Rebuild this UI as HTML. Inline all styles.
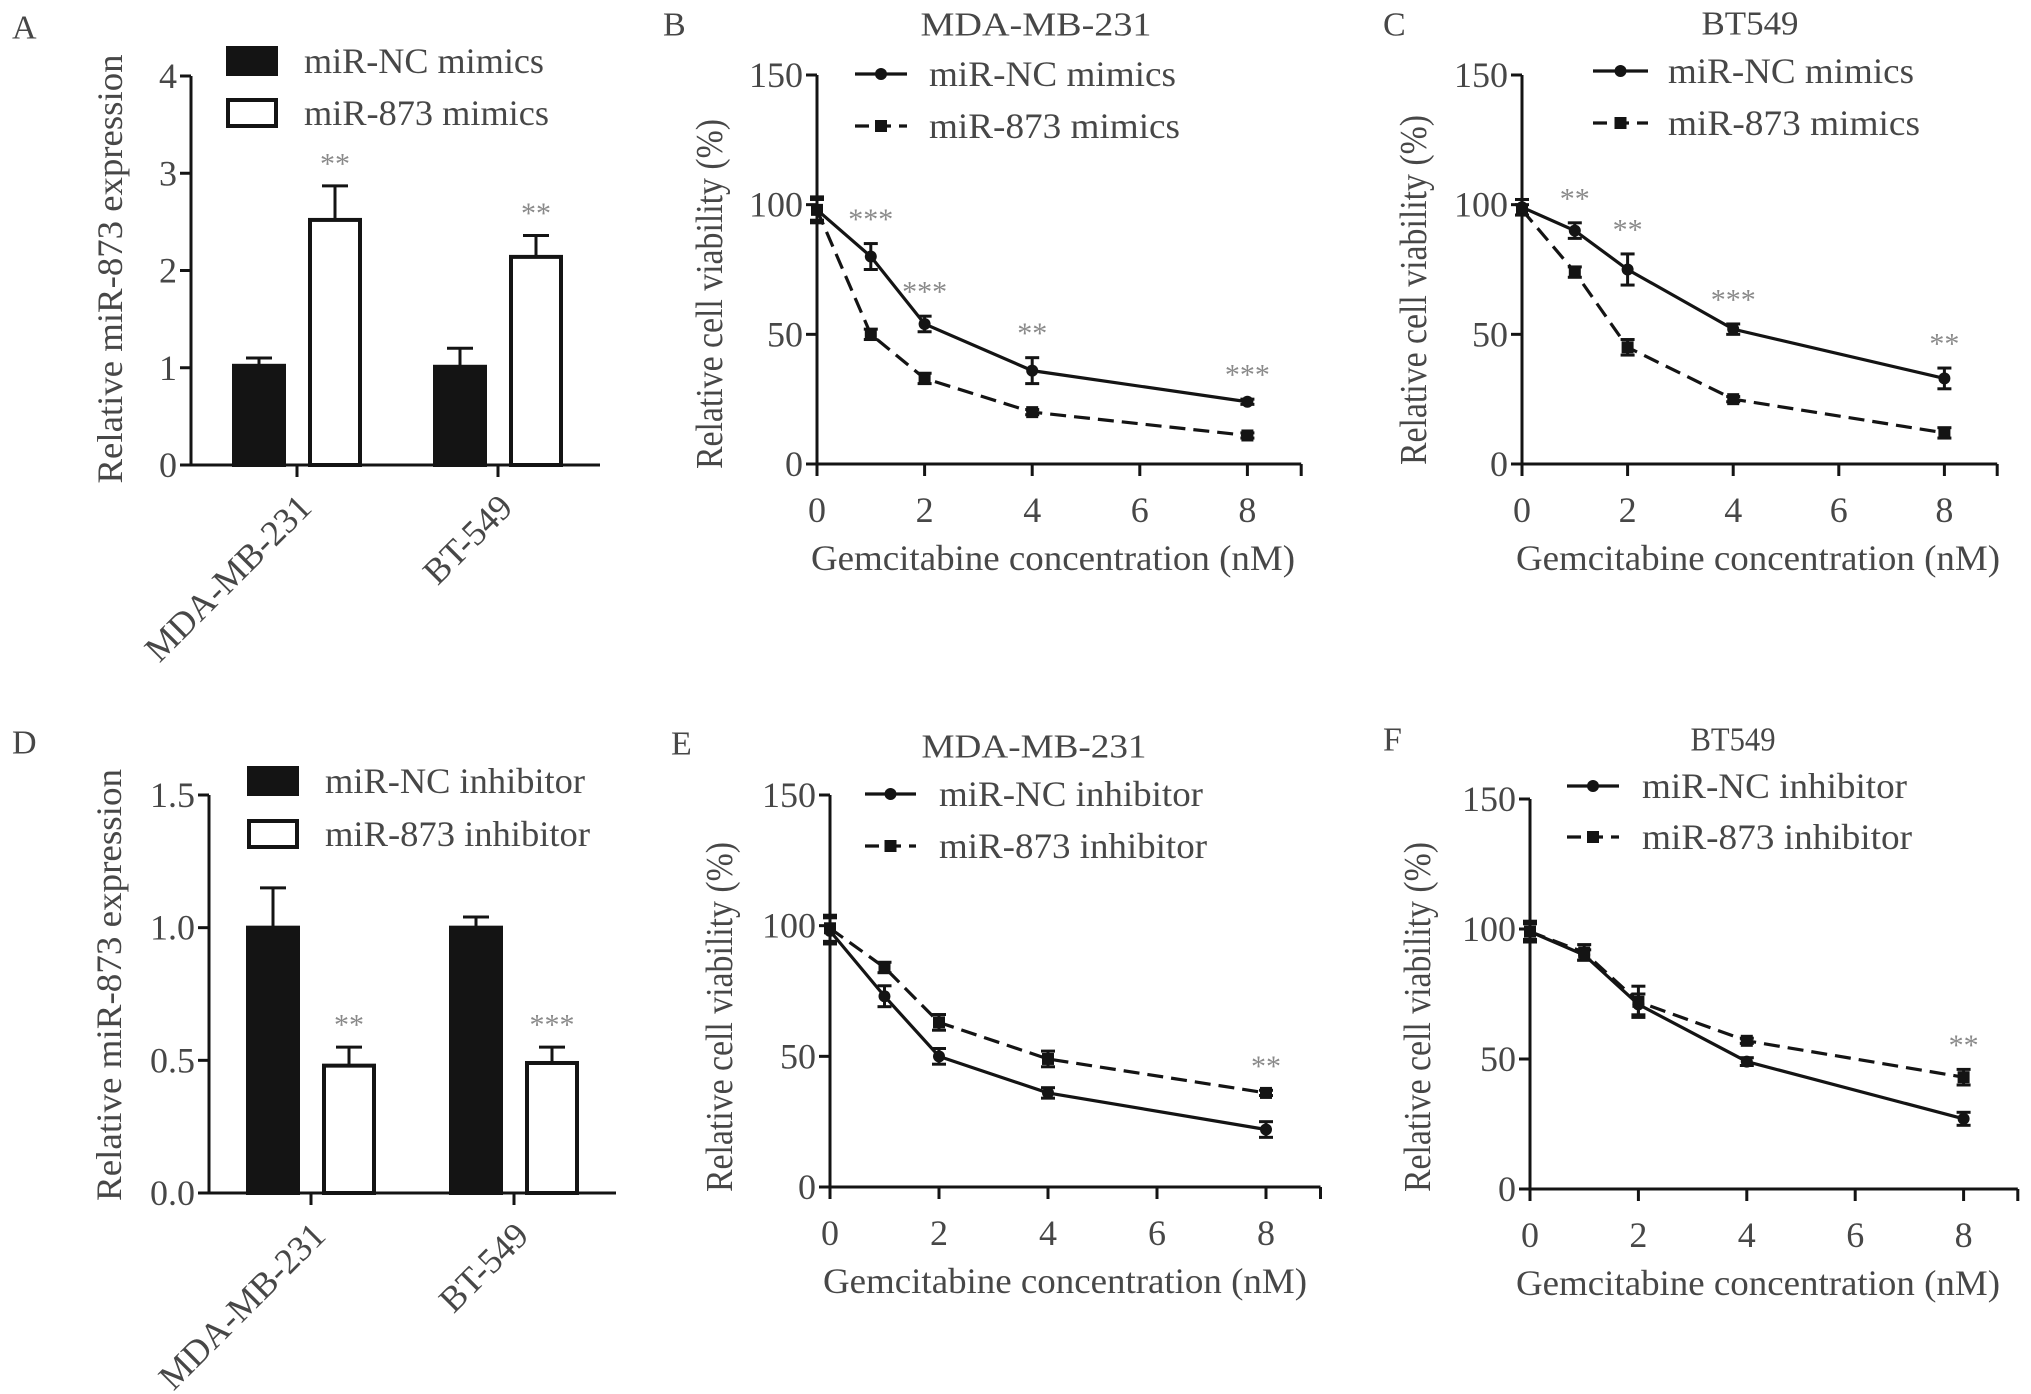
<!DOCTYPE html>
<html><head><meta charset="utf-8"><style>
html,body{margin:0;padding:0;background:#fff;}
svg{display:block;font-family:"Liberation Serif","Times New Roman",serif;}
</style></head><body>
<svg id="fig" width="2031" height="1394" viewBox="0 0 2031 1394" xmlns="http://www.w3.org/2000/svg"></svg>
<script>
// ---------- data ----------
const barCategories = ["MDA-MB-231", "BT-549"];
const aNC = [1.02, 1.01];
const aNCerr = [0.08, 0.19];
const a873 = [2.52, 2.14];
const a873err = [0.35, 0.22];
const aStars = ["**", "**"];
const dNC = [1.0, 1.0];
const dNCerr = [0.15, 0.04];
const d873 = [0.48, 0.49];
const d873err = [0.07, 0.06];
const dStars = ["**", "***"];
const conc = [0, 1, 2, 4, 8];
const xTicks = [0, 2, 4, 6, 8];
const yTicksLine = [0, 50, 100, 150];
const bNC = [98, 80, 54, 36, 24];
const bNCerr = [5, 5, 3, 5, 1];
const b873 = [98, 50, 33, 20, 11];
const b873err = [4, 2, 2, 1, 1];
const bStars = ["", "***", "***", "**", "***"];
const cNC = [99, 90, 75, 52, 33];
const cNCerr = [3, 3, 6, 2, 4];
const c873 = [98, 74, 45, 25, 12];
const c873err = [2, 2, 3, 1, 2];
const cStars = ["", "**", "**", "***", "**"];
const eNC = [98, 73, 50, 36, 22];
const eNCerr = [5, 4, 3, 2, 3];
const e873 = [99, 84, 63, 49, 36];
const e873err = [5, 2, 3, 3, 1];
const eStars = ["", "", "", "", "**"];
const fNC = [99, 90, 71, 49, 27];
const fNCerr = [3, 2, 4, 1.5, 2.5];
const f873 = [99, 91, 72, 57, 43];
const f873err = [4, 3, 6, 1, 3];
const fStars = ["", "", "", "", "**"];

const svg = document.getElementById('fig');
const NS = 'http://www.w3.org/2000/svg';
function mk(tag, attrs, parent) {
  const e = document.createElementNS(NS, tag);
  for (const k in attrs) e.setAttribute(k, attrs[k]);
  (parent || svg).appendChild(e);
  return e;
}
function txt(s, x, y, size, opts, parent) {
  opts = opts || {};
  const t = mk('text', {x: x, y: y, 'font-size': size, fill: opts.fill || '#474747',
    'text-anchor': opts.anchor || 'start', 'dominant-baseline': 'central'}, parent);
  if (opts.len) { t.setAttribute('textLength', opts.len); t.setAttribute('lengthAdjust', 'spacingAndGlyphs'); }
  if (opts.transform) t.setAttribute('transform', opts.transform);
  t.textContent = s;
  return t;
}
const INK = '#141414';

function yAxis(g, x0, yPix, ticks, labels, top, bottom) {
  const ax = mk('line', {x1: x0, y1: top, x2: x0, y2: bottom, stroke: INK, 'stroke-width': 3}, g);
  
  
  ticks.forEach((v, i) => {
    const y = yPix(v);
    mk('line', {x1: x0 - 11, y1: y, x2: x0, y2: y, stroke: INK, 'stroke-width': 3}, g);
    const t = txt(labels[i], x0 - 14, y, 36, {anchor: 'end'}, g);
    
    
  });
}

// ---------- bar panel ----------
function barPanel(p) {
  const g = mk('g', {});
  
  
  const yPix = v => p.y0 - (v / p.ymax) * (p.y0 - p.ytop);
  const lbl = txt(p.letter, p.letterX, p.letterY, 34, {}, g);
  
  
  yAxis(g, p.x0, yPix, p.yTicks, p.yLabels, p.ytop, p.y0);
  const xa = mk('line', {x1: p.x0, y1: p.y0, x2: p.xEnd, y2: p.y0, stroke: INK, 'stroke-width': 3}, g);
  
  
  const yt = txt(p.ytitle, 0, 0, 36, {anchor: 'middle', len: p.ytitleLen, transform: `translate(${p.ytitleX},${p.ytitleY}) rotate(-90)`}, g);
  
  
  barCategories.forEach((c, i) => {
    const gx = p.groupX[i];
    mk('line', {x1: gx, y1: p.y0, x2: gx, y2: p.y0 + 12, stroke: INK, 'stroke-width': 3}, g);
    const cl = txt(c, 0, 0, 36, {anchor: 'end', transform: `translate(${gx + 8},${p.y0 + 36}) rotate(-45)`}, g);
    
    
    [[p.nc, p.ncErr, INK, -1], [p.t, p.tErr, '#fff', 1]].forEach(([vals, errs, fill, side]) => {
      const bx = side < 0 ? gx - p.gap - p.bw : gx + p.gap;
      const top = yPix(vals[i]);
      const eTop = yPix(vals[i] + errs[i]);
      const cx = bx + p.bw / 2;
      mk('line', {x1: cx, y1: top, x2: cx, y2: eTop, stroke: INK, 'stroke-width': 3}, g);
      mk('line', {x1: cx - 13, y1: eTop, x2: cx + 13, y2: eTop, stroke: INK, 'stroke-width': 3}, g);
      const r = mk('rect', {x: bx + 2, y: top, width: p.bw - 4, height: p.y0 - top, fill: fill, stroke: INK, 'stroke-width': 4}, g);
      
      
      if (side > 0 && p.stars[i]) {
        const s = txt(p.stars[i], cx, eTop - 22, 30, {anchor: 'middle', fill: '#8a8a8a'}, g);
        
        
      }
    });
  });
  p.legend.forEach((L, i) => {
    const r = mk('rect', {x: p.legX + 2, y: p.legY[i] - 13, width: 48, height: 26, fill: i === 0 ? INK : '#fff', stroke: INK, 'stroke-width': 4}, g);
    
    
    const t = txt(L, p.legTextX, p.legY[i], 36, {len: p.legLen[i]}, g);
    
    
  });
}

// ---------- line panel ----------
function linePanel(p) {
  const g = mk('g', {});
  
  
  const xPix = v => p.x0 + v * p.ux;
  const yPix = v => p.y0 - (v / 150) * (p.y0 - p.ytop);
  const lbl = txt(p.letter, p.letterX, p.letterY, 34, {}, g);
  
  
  const ti = txt(p.title, p.titleX, p.titleY, 34, {anchor: 'middle', len: p.titleLen}, g);
  
  
  yAxis(g, p.x0, yPix, yTicksLine, yTicksLine.map(String), p.ytop, p.y0);
  const xa = mk('line', {x1: p.x0, y1: p.y0, x2: xPix(9), y2: p.y0, stroke: INK, 'stroke-width': 3}, g);
  
  
  xTicks.concat([9]).forEach(v => {
    mk('line', {x1: xPix(v), y1: p.y0, x2: xPix(v), y2: p.y0 + 12, stroke: INK, 'stroke-width': 3}, g);
  });
  xTicks.forEach(v => {
    const t = txt(String(v), xPix(v), p.y0 + 46, 36, {anchor: 'middle'}, g);
    
    
  });
  const xt = txt('Gemcitabine concentration (nM)', p.xtitleX, p.y0 + 94, 36, {anchor: 'middle', len: 484}, g);
  
  
  const yt = txt('Relative cell viability (%)', 0, 0, 38, {anchor: 'middle', len: 350, transform: `translate(${p.ytitleX},${p.ytitleY}) rotate(-90)`}, g);
  
  

  const series = [[p.t, p.tErr, true], [p.nc, p.ncErr, false]];
  series.forEach(([vals, errs, dashed]) => {
    const pts = conc.map((c, i) => xPix(c) + ',' + yPix(vals[i])).join(' ');
    const pl = mk('polyline', {points: pts, fill: 'none', stroke: INK, 'stroke-width': 3.2, 'stroke-dasharray': dashed ? '16 8' : 'none'}, g);
    
    
    conc.forEach((c, i) => {
      const x = xPix(c), y = yPix(vals[i]);
      const e1 = yPix(vals[i] + errs[i]), e2 = yPix(vals[i] - errs[i]);
      mk('line', {x1: x, y1: e1, x2: x, y2: e2, stroke: INK, 'stroke-width': 3}, g);
      mk('line', {x1: x - 7, y1: e1, x2: x + 7, y2: e1, stroke: INK, 'stroke-width': 3}, g);
      mk('line', {x1: x - 7, y1: e2, x2: x + 7, y2: e2, stroke: INK, 'stroke-width': 3}, g);
      let m;
      if (dashed) m = mk('rect', {x: x - 6, y: y - 6, width: 12, height: 12, fill: INK}, g);
      else m = mk('circle', {cx: x, cy: y, r: 6, fill: INK}, g);
      
      
    });
  });
  conc.forEach((c, i) => {
    if (!p.stars[i]) return;
    const top = Math.max(p.nc[i] + p.ncErr[i], p.t[i] + p.tErr[i]);
    const s = txt(p.stars[i], xPix(c), yPix(top) - 24, 30, {anchor: 'middle', fill: '#8a8a8a'}, g);
    
    
  });
  p.legend.forEach((L, i) => {
    const y = p.legY[i];
    mk('line', {x1: p.legX1, y1: y, x2: p.legX2, y2: y, stroke: INK, 'stroke-width': 3.2, 'stroke-dasharray': i === 1 ? '14 8' : 'none'}, g);
    const mx = (p.legX1 + p.legX2) / 2;
    if (i === 0) mk('circle', {cx: mx, cy: y, r: 6, fill: INK}, g);
    else mk('rect', {x: mx - 6, y: y - 6, width: 12, height: 12, fill: INK}, g);
    const t = txt(L, p.legTextX, y, 36, {len: p.legLen[i]}, g);
    
    
  });
}

barPanel({name: 'panel-a', letter: 'A', letterX: 12, letterY: 28, x0: 191, y0: 465, ytop: 76, ymax: 4, xEnd: 600,
  yTicks: [0, 1, 2, 3, 4], yLabels: ['0', '1', '2', '3', '4'], groupX: [297, 498], gap: 11, bw: 54,
  nc: aNC, ncErr: aNCerr, t: a873, tErr: a873err, stars: aStars,
  ytitle: 'Relative miR-873 expression', ytitleX: 110, ytitleY: 269, ytitleLen: 429,
  legend: ['miR-NC mimics', 'miR-873 mimics'], legX: 226, legY: [61, 113], legTextX: 304, legLen: [240, 245]});
barPanel({name: 'panel-d', letter: 'D', letterX: 12, letterY: 743, x0: 209, y0: 1193, ytop: 795, ymax: 1.5, xEnd: 616,
  yTicks: [0, 0.5, 1.0, 1.5], yLabels: ['0.0', '0.5', '1.0', '1.5'], groupX: [311, 514], gap: 11, bw: 54,
  nc: dNC, ncErr: dNCerr, t: d873, tErr: d873err, stars: dStars,
  ytitle: 'Relative miR-873 expression', ytitleX: 109, ytitleY: 985, ytitleLen: 432,
  legend: ['miR-NC inhibitor', 'miR-873 inhibitor'], legX: 247, legY: [781, 834], legTextX: 325, legLen: [260, 265]});

linePanel({name: 'panel-b', letter: 'B', letterX: 663, letterY: 25, title: 'MDA-MB-231', titleX: 1036, titleY: 25, titleLen: 231,
  x0: 817, ux: 53.8, y0: 464, ytop: 75, xtitleX: 1053, ytitleX: 710, ytitleY: 294,
  nc: bNC, ncErr: bNCerr, t: b873, tErr: b873err, stars: bStars,
  legend: ['miR-NC mimics', 'miR-873 mimics'], legX1: 855, legX2: 907, legY: [74, 126], legTextX: 929, legLen: [247, 251]});
linePanel({name: 'panel-c', letter: 'C', letterX: 1383, letterY: 25, title: 'BT549', titleX: 1750, titleY: 24, titleLen: 97,
  x0: 1522, ux: 52.8, y0: 464, ytop: 75, xtitleX: 1758, ytitleX: 1414, ytitleY: 290,
  nc: cNC, ncErr: cNCerr, t: c873, tErr: c873err, stars: cStars,
  legend: ['miR-NC mimics', 'miR-873 mimics'], legX1: 1593, legX2: 1648, legY: [71, 123], legTextX: 1668, legLen: [246, 252]});
linePanel({name: 'panel-e', letter: 'E', letterX: 671, letterY: 744, title: 'MDA-MB-231', titleX: 1034, titleY: 747, titleLen: 225,
  x0: 830, ux: 54.5, y0: 1187, ytop: 795, xtitleX: 1065, ytitleX: 720, ytitleY: 1017,
  nc: eNC, ncErr: eNCerr, t: e873, tErr: e873err, stars: eStars,
  legend: ['miR-NC inhibitor', 'miR-873 inhibitor'], legX1: 865, legX2: 916, legY: [794, 846], legTextX: 939, legLen: [264, 268]});
linePanel({name: 'panel-f', letter: 'F', letterX: 1383, letterY: 740, title: 'BT549', titleX: 1733, titleY: 740, titleLen: 85,
  x0: 1530, ux: 54.2, y0: 1189, ytop: 799, xtitleX: 1758, ytitleX: 1418, ytitleY: 1017,
  nc: fNC, ncErr: fNCerr, t: f873, tErr: f873err, stars: fStars,
  legend: ['miR-NC inhibitor', 'miR-873 inhibitor'], legX1: 1567, legX2: 1619, legY: [786, 837], legTextX: 1642, legLen: [265, 270]});
</script>
</body></html>
